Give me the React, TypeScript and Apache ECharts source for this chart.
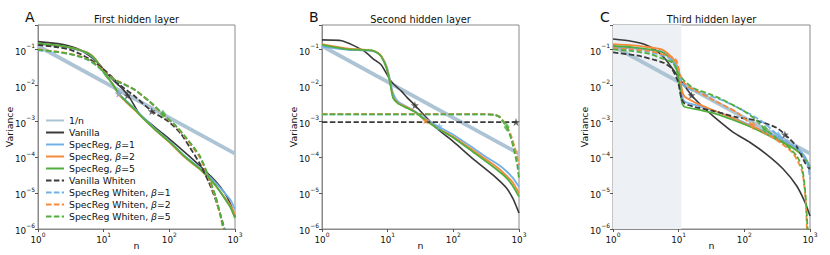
import React, { useEffect, useRef } from "react";
import * as echarts from "echarts";

type P = [number, number];
type M = [string, number, number];

const FONT = "DejaVu Sans";

const LEGEND_NAMES = [
  "1/n",
  "Vanilla",
  "SpecReg, β=1",
  "SpecReg, β=2",
  "SpecReg, β=5",
  "Vanilla Whiten",
  "SpecReg Whiten, β=1",
  "SpecReg Whiten, β=2",
  "SpecReg Whiten, β=5",
];
const SERIES_KEYS = ["onen", "vanilla", "s1", "s2", "s5", "vw", "w1", "w2", "w5"];
const PANEL_TITLES = ["First hidden layer", "Second hidden layer", "Third hidden layer"];
const PANEL_LETTERS = ["A", "B", "C"];
const SHADE_C: [number, number] = [1, 11];

// reference line 1/n (scaled)
const ONE_OVER_N: P[] = [[1, 0.125], [1000, 1.25e-4]];

// ---------- Panel A: first hidden layer ----------
const A_VANILLA: P[] = [[1,0.165],[2,0.145],[3,0.125],[4,0.105],[5,0.085],[7,0.055],[9,0.035],[11,0.022],[14,0.014],[17,0.01],[20,0.0075],[25,0.0045],[35,0.0016],[50,9e-4],[80,4.5e-4],[150,1.7e-4],[300,5.5e-5],[500,2.2e-5],[700,1e-5],[850,5e-6],[1000,2.2e-6]];
const A_SPEC1: P[] = [[1,0.14],[2,0.125],[3,0.112],[4,0.098],[5,0.086],[6,0.074],[7,0.058],[8,0.044],[9,0.031],[10,0.023],[11,0.018],[12,0.015],[14,0.0105],[17,0.006],[20,0.0044],[30,0.0022],[40,0.0013],[60,6.3e-4],[100,2.8e-4],[170,1.1e-4],[300,4.8e-5],[500,2e-5],[700,1e-5],[850,6.5e-6],[1000,3.5e-6]];
const A_SPEC2: P[] = [[1,0.145],[2,0.128],[3,0.114],[4,0.1],[5,0.088],[6,0.077],[7,0.062],[8,0.046],[9,0.033],[10,0.024],[11,0.018],[12,0.015],[14,0.0102],[17,0.0057],[20,0.0041],[30,0.002],[40,0.0012],[60,5.9e-4],[100,2.6e-4],[170,1e-4],[300,4.4e-5],[500,1.65e-5],[700,7.5e-6],[850,4.5e-6],[1000,2.5e-6]];
const A_SPEC5: P[] = [[1,0.148],[2,0.13],[3,0.115],[4,0.1],[5,0.088],[6,0.076],[7,0.06],[8,0.045],[9,0.032],[10,0.023],[11,0.018],[12,0.015],[14,0.01],[17,0.0058],[20,0.0042],[30,0.0021],[40,0.0012],[60,6e-4],[100,2.7e-4],[170,1.05e-4],[300,4.5e-5],[500,1.7e-5],[700,7e-6],[850,4e-6],[1000,2e-6]];
const A_VWHITEN: P[] = [[1,0.134],[2,0.115],[3,0.1],[4.4,0.075],[6,0.055],[7.8,0.04],[10,0.028],[13,0.018],[18,0.01],[30,0.0049],[54,0.0019],[96,0.001],[150,4.5e-4],[208,1.8e-4],[286,7e-5],[400,2e-5],[500,7e-6],[600,2.5e-6],[690,1e-6],[740,5e-7]];
const A_W1: P[] = [[1,0.095],[2,0.084],[3,0.074],[4.4,0.062],[6,0.049],[8,0.034],[11,0.02],[15,0.0138],[20,0.0108],[30,0.0073],[50,0.0035],[80,0.00158],[130,6.9e-4],[180,3.4e-4],[290,1.05e-4],[380,3.4e-5],[510,7.5e-6],[600,2.4e-6],[680,1e-6],[720,5e-7]];
const A_W2: P[] = [[1,0.1],[2,0.087],[3,0.077],[4.4,0.064],[6,0.051],[8,0.036],[11,0.021],[15,0.0145],[20,0.0112],[30,0.0074],[50,0.0035],[80,0.00155],[130,6.8e-4],[180,3.3e-4],[290,1e-4],[380,3.2e-5],[510,7e-6],[600,2.2e-6],[660,1e-6],[700,5e-7]];
const A_W5: P[] = [[1,0.097],[2,0.085],[3,0.075],[4.4,0.063],[6,0.05],[8,0.035],[11,0.02],[15,0.014],[20,0.011],[30,0.0075],[50,0.0036],[80,0.0016],[130,7e-4],[180,3.5e-4],[290,1.1e-4],[380,3.5e-5],[510,8e-6],[600,2.5e-6],[670,1e-6],[720,5e-7]];
const A_MARKS: M[] = [["vanilla",23,0.0052],["s2",17,0.0058],["s1",17,0.006],["vw",54,0.0019],["w5",80,0.0016]];

// ---------- Panel B: second hidden layer ----------
const B_VANILLA: P[] = [[1,0.185],[2,0.175],[3,0.13],[4.5,0.087],[6,0.055],[8,0.037],[11.4,0.0126],[16,0.007],[20,0.0045],[26,0.0028],[37,0.0014],[55,6.5e-4],[100,2.7e-4],[200,9e-5],[400,3.2e-5],[640,1.4e-5],[810,7e-6],[900,4.5e-6],[1000,2.8e-6]];
const B_SPEC1: P[] = [[1,0.12],[2.5,0.098],[4,0.095],[5.7,0.092],[7,0.08],[8,0.065],[9.6,0.035],[10.8,0.015],[12.1,0.006],[14.4,0.0035],[20,0.0025],[26,0.0019],[37,0.0012],[60,7e-4],[100,4.2e-4],[200,1.8e-4],[320,1e-4],[500,6e-5],[650,4e-5],[800,2.7e-5],[1000,1.5e-5]];
const B_SPEC2: P[] = [[1,0.14],[2.5,0.105],[4,0.1],[5.7,0.095],[7,0.082],[8,0.066],[9.6,0.032],[10.8,0.013],[12.1,0.0047],[14.4,0.0032],[20,0.0024],[26,0.0018],[37,0.0011],[60,6.2e-4],[100,3.7e-4],[200,1.55e-4],[320,8.5e-5],[500,4.7e-5],[650,3e-5],[800,2e-5],[1000,1e-5]];
const B_SPEC5: P[] = [[1,0.134],[2.5,0.1],[4,0.098],[5.7,0.094],[7,0.08],[8,0.063],[9.6,0.03],[10.8,0.0126],[12.1,0.0045],[14.4,0.0031],[20,0.0023],[26,0.0018],[37,0.0011],[60,6e-4],[100,3.5e-4],[200,1.4e-4],[320,7.5e-5],[500,4e-5],[650,2.6e-5],[800,1.6e-5],[1000,8e-6]];
const B_VWHITEN: P[] = [[1,9.5e-4],[1000,9.5e-4]];
const B_W1: P[] = [[1,0.00156],[300,0.00156],[430,0.00151],[510,0.00131],[580,9.8e-4],[650,7.2e-4],[750,3.8e-4],[860,1.6e-4],[940,8e-5],[1000,4e-5]];
const B_W2: P[] = [[1,0.00158],[300,0.00158],[430,0.00152],[510,0.00133],[580,0.001],[650,7.5e-4],[750,4.2e-4],[860,1.9e-4],[940,1e-4],[1000,6e-5]];
const B_W5: P[] = [[1,0.00155],[300,0.00155],[430,0.0015],[510,0.0013],[580,9.5e-4],[650,6.9e-4],[750,3.5e-4],[860,1.3e-4],[940,6e-5],[1000,2.5e-5]];
const B_MARKS: M[] = [["vanilla",26,0.0028],["s2",38,0.00105],["s1",61,7.2e-4],["w5",650,6.9e-4],["vw",900,9.5e-4]];

// ---------- Panel C: third hidden layer ----------
const C_VANILLA: P[] = [[1,0.196],[1.9,0.17],[3,0.14],[4.3,0.1],[6.1,0.057],[8.7,0.024],[11.7,0.011],[15.7,0.0053],[22,0.0028],[35,0.0013],[68,4.9e-4],[121,2.6e-4],[218,1.2e-4],[390,4.7e-5],[625,1.6e-5],[840,5.5e-6],[1000,2.3e-6]];
const C_SPEC1: P[] = [[1,0.115],[2,0.108],[3,0.1],[5.5,0.088],[7.8,0.06],[9.2,0.035],[10.5,0.012],[11.3,0.005],[12.4,0.0035],[20,0.0027],[37,0.0019],[76,0.00115],[153,6.5e-4],[310,3.6e-4],[550,2e-4],[790,1.2e-4],[1000,5.5e-5]];
const C_SPEC2: P[] = [[1,0.14],[2,0.13],[3,0.12],[5.5,0.1],[7.8,0.062],[9.2,0.04],[10.5,0.016],[11.3,0.007],[12.4,0.0048],[20,0.003],[37,0.0019],[76,0.0011],[153,6e-4],[310,3.3e-4],[550,1.8e-4],[790,1.05e-4],[1000,5e-5]];
const C_SPEC5: P[] = [[1,0.125],[2,0.115],[3,0.105],[5.5,0.085],[7.8,0.05],[9.2,0.03],[10.5,0.0082],[11.3,0.0031],[12.4,0.0025],[20,0.0021],[37,0.0016],[76,0.001],[153,5.9e-4],[310,3.1e-4],[550,1.8e-4],[790,1.07e-4],[1000,5e-5]];
const C_VWHITEN: P[] = [[1,0.083],[2.4,0.067],[4.3,0.051],[6,0.042],[7.8,0.03],[9.8,0.0126],[11,0.0043],[12.4,0.0031],[17.6,0.0025],[35,0.0019],[76,0.0013],[153,0.00105],[310,6.6e-4],[415,4.3e-4],[625,2e-4],[840,7e-5],[1000,4.5e-5]];
const C_W1: P[] = [[1,0.11],[2,0.1],[3.6,0.085],[7,0.06],[9.8,0.03],[11,0.013],[13,0.0085],[20,0.0065],[47,0.0038],[121,0.0016],[200,9e-4],[330,4e-4],[500,2.4e-4],[700,1.5e-4],[850,9e-5],[950,5e-5],[1000,2.5e-5]];
const C_W2: P[] = [[1,0.11],[2,0.1],[3.6,0.09],[7,0.065],[9.2,0.05],[10.5,0.02],[13,0.01],[20,0.0065],[37.7,0.0035],[76,0.0018],[136,7.5e-4],[310,3e-4],[550,1.3e-4],[760,4e-5],[860,6e-6],[900,8e-7]];
const C_W5: P[] = [[1,0.1],[2,0.09],[3.6,0.075],[5.8,0.055],[8.2,0.042],[9.8,0.022],[11.7,0.0145],[16.6,0.0085],[37.7,0.0048],[96,0.002],[150,0.0011],[207,6e-4],[390,2.6e-4],[625,1.1e-4],[760,5e-5],[850,1e-5],[900,2e-6],[930,7e-7]];
const C_MARKS: M[] = [["vanilla",15.7,0.0053],["w2",136,7.5e-4],["w5",207,6e-4],["w1",330,4e-4],["vw",415,4.3e-4]];

const PANELS: Record<string, any>[] = [
  { vanilla: A_VANILLA, s1: A_SPEC1, s2: A_SPEC2, s5: A_SPEC5, vw: A_VWHITEN, w1: A_W1, w2: A_W2, w5: A_W5, marks: A_MARKS },
  { vanilla: B_VANILLA, s1: B_SPEC1, s2: B_SPEC2, s5: B_SPEC5, vw: B_VWHITEN, w1: B_W1, w2: B_W2, w5: B_W5, marks: B_MARKS },
  { vanilla: C_VANILLA, s1: C_SPEC1, s2: C_SPEC2, s5: C_SPEC5, vw: C_VWHITEN, w1: C_W1, w2: C_W2, w5: C_W5, marks: C_MARKS },
];

const BLUE = "#72b0ea";
const ORANGE = "#f58a3d";
const GREEN = "#4fae3c";
const DARK = "#3a3a3a";
const STYLE: Record<string, { color: string; width: number; dashed: boolean }> = {
  onen: { color: "#adc4d5", width: 3.8, dashed: false },
  vanilla: { color: DARK, width: 1.6, dashed: false },
  s1: { color: BLUE, width: 1.8, dashed: false },
  s2: { color: ORANGE, width: 1.8, dashed: false },
  s5: { color: GREEN, width: 1.8, dashed: false },
  vw: { color: DARK, width: 1.8, dashed: true },
  w1: { color: BLUE, width: 1.8, dashed: true },
  w2: { color: ORANGE, width: 1.8, dashed: true },
  w5: { color: GREEN, width: 1.8, dashed: true },
};

const GRID_LEFT = [38, 322, 613];
const GRID_W = 197;
const GRID_TOP = 25;
const GRID_H = 204;
const FS = 9.4;
const TICK_FS = 8.8;
const TEXT = "#111";
const STAR = "path://M0,-10L2.4,-3.2L9.5,-3.1L3.8,1.2L5.9,8.1L0,4L-5.9,8.1L-3.8,1.2L-9.5,-3.1L-2.4,-3.2Z";

const RICH = {
  b: { fontSize: TICK_FS, fontFamily: FONT, color: TEXT, lineHeight: 13.5, verticalAlign: "bottom" },
  s: { fontSize: 6, fontFamily: FONT, color: TEXT, verticalAlign: "top" },
};

function powLabel(v: number): string {
  const e = Math.log10(v);
  const r = Math.round(e);
  if (Math.abs(e - r) > 1e-6) return "";
  return `{b|10}{s|${r < 0 ? "\u2212" + -r : r}}`;
}

export default function App() {
  const ref = useRef<HTMLDivElement>(null);
  useEffect(() => {
    if (!ref.current) return;
    const chart = echarts.init(ref.current, undefined, { renderer: "svg" });

    const grids = GRID_LEFT.map((l) => ({
      left: l, top: GRID_TOP, width: GRID_W, height: GRID_H,
      show: true, borderColor: "#8a8a8a", borderWidth: 1, backgroundColor: "transparent",
    }));
    const xAxes = GRID_LEFT.map((_, i) => ({
      type: "log", gridIndex: i, logBase: 10, min: 1, max: 1000,
      axisLine: { show: true, lineStyle: { color: "#8a8a8a", width: 1 } },
      axisTick: { show: true, length: 3, lineStyle: { color: "#555" } },
      splitLine: { show: false },
      axisLabel: { formatter: powLabel, rich: RICH, margin: 2, color: TEXT },
      name: "n", nameLocation: "middle", nameGap: 12, nameMoveOverlap: false,
      nameTextStyle: { fontSize: FS, fontFamily: FONT, color: TEXT },
    }));
    const yAxes = GRID_LEFT.map((_, i) => ({
      type: "log", gridIndex: i, logBase: 10, min: 1e-6, max: 0.48,
      axisLine: { show: true, lineStyle: { color: "#8a8a8a", width: 1 } },
      axisTick: { show: true, length: 3, lineStyle: { color: "#555" } },
      splitLine: { show: false },
      axisLabel: { formatter: powLabel, rich: RICH, margin: 3, color: TEXT },
      name: "Variance", nameLocation: "middle", nameGap: 24, nameRotate: 90, nameMoveOverlap: false,
      nameTextStyle: { fontSize: FS, fontFamily: FONT, color: TEXT },
    }));

    const series: any[] = [];
    PANELS.forEach((p, i) => {
      SERIES_KEYS.forEach((k, j) => {
        const st = STYLE[k];
        const s: any = {
          type: "line", name: LEGEND_NAMES[j], xAxisIndex: i, yAxisIndex: i,
          data: k === "onen" ? ONE_OVER_N : p[k],
          symbol: "none", showSymbol: false, smooth: 0.2,
          clip: true, silent: true,
          lineStyle: { color: st.color, width: st.width, type: st.dashed ? [5.5, 2.4] : "solid" },
          itemStyle: { color: st.color },
        };
        if (i === 2 && k === "onen") {
          s.markArea = {
            silent: true,
            itemStyle: { color: "#edf1f5" },
            data: [[{ xAxis: SHADE_C[0] }, { xAxis: SHADE_C[1] }]],
          };
        }
        series.push(s);
      });
      series.push({
        type: "scatter", xAxisIndex: i, yAxisIndex: i, silent: true, z: 5,
        data: (p.marks as M[]).map((m) => ({
          value: [m[1], m[2]],
          symbol: m[0].startsWith("w") ? "diamond" : STAR,
          symbolSize: m[0].startsWith("w") ? [6, 9] : 8,
          itemStyle: { color: STYLE[m[0]].color, opacity: 0.75 },
        })),
      });
    });

    const graphic: any[] = [];
    PANEL_TITLES.forEach((t, i) => {
      graphic.push({
        type: "text", x: GRID_LEFT[i] + GRID_W / 2, y: 19.5, silent: true,
        style: { text: t, fontSize: 9.8, fontFamily: FONT, fill: TEXT, align: "center", verticalAlign: "middle" },
      });
      graphic.push({
        type: "text", x: GRID_LEFT[i] - 13, y: 17, silent: true,
        style: { text: PANEL_LETTERS[i], fontSize: 14, fontFamily: FONT, fill: TEXT, align: "left", verticalAlign: "middle" },
      });
    });

    chart.setOption({
      animation: false,
      backgroundColor: "#ffffff",
      grid: grids,
      xAxis: xAxes,
      yAxis: yAxes,
      legend: {
        data: LEGEND_NAMES,
        orient: "vertical",
        left: 45, top: 116,
        padding: 0,
        itemWidth: 18, itemHeight: 8, itemGap: 3,
        itemStyle: { opacity: 0 },
        selectedMode: false,
        formatter: (name: string) => name.replace("β", "{i|β}"),
        textStyle: {
          fontSize: 9.3, fontFamily: FONT, color: TEXT,
          rich: { i: { fontSize: 9.3, fontFamily: FONT, fontStyle: "italic", color: TEXT } },
        },
      },
      graphic,
      series,
    });
    return () => chart.dispose();
  }, []);
  return <div ref={ref} style={{ position: "absolute", left: 0, top: 0, width: 830, height: 255 }} />;
}
